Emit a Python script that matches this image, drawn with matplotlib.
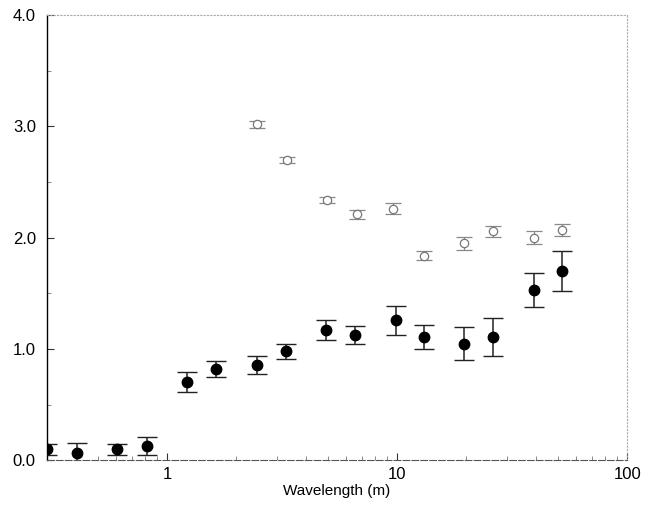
import matplotlib
matplotlib.use("Agg")
import matplotlib.pyplot as plt
from matplotlib.ticker import FixedLocator, NullFormatter, LogLocator

plt.rcParams['font.family'] = ['Liberation Sans', 'DejaVu Sans']

# Filled-circle series
wl_filled = [0.30, 0.406, 0.607, 0.82, 1.22, 1.63, 2.46, 3.29, 4.91, 6.55, 9.83, 13.1, 19.6, 26.2, 39.2, 52.2]
val_filled = [0.10, 0.07, 0.10, 0.13, 0.70, 0.82, 0.86, 0.98, 1.17, 1.13, 1.26, 1.11, 1.05, 1.11, 1.53, 1.70]
err_filled = [0.05, 0.09, 0.05, 0.08, 0.09, 0.07, 0.08, 0.07, 0.09, 0.08, 0.13, 0.11, 0.15, 0.17, 0.15, 0.18]

# Open-circle series
wl_open = [2.45, 3.31, 4.95, 6.68, 9.6, 13.1, 19.6, 26.0, 39.2, 52.3]
val_open = [3.02, 2.70, 2.34, 2.21, 2.26, 1.84, 1.95, 2.06, 2.00, 2.07]
err_open = [0.03, 0.03, 0.03, 0.04, 0.05, 0.04, 0.06, 0.05, 0.06, 0.05]

y_ticks = [0.0, 1.0, 2.0, 3.0, 4.0]
y_tick_labels = ["0.0", "1.0", "2.0", "3.0", "4.0"]
x_ticks = [1, 10, 100]
x_tick_labels = ["1", "10", "100"]

fig = plt.figure(figsize=(6.52, 5.07), dpi=100)
ax = fig.add_axes([0.072, 0.092, 0.890, 0.878])

ax.errorbar(wl_open, val_open, yerr=err_open, fmt='o', ms=6, mfc='white',
            mec='#777777', mew=0.9, ecolor='#888888', elinewidth=0.9,
            capsize=6, capthick=0.9, zorder=3)
ax.errorbar(wl_filled, val_filled, yerr=err_filled, fmt='o', ms=7.5, mfc='black',
            mec='black', ecolor='#222222', elinewidth=1.1,
            capsize=7.5, capthick=1.0, zorder=4)

ax.set_xscale('log')
ax.set_xlim(0.30, 100)
ax.set_ylim(0, 4.0)

ax.xaxis.set_major_locator(FixedLocator(x_ticks))
ax.set_xticklabels(x_tick_labels)
ax.xaxis.set_minor_locator(LogLocator(base=10, subs=range(2, 10)))
ax.xaxis.set_minor_formatter(NullFormatter())
ax.yaxis.set_major_locator(FixedLocator(y_ticks))
ax.set_yticklabels(y_tick_labels)
ax.yaxis.set_minor_locator(FixedLocator([0.5, 1.5, 2.5, 3.5]))

ax.tick_params(axis='both', which='major', direction='in', length=5, width=0.8,
               labelsize=12, colors='#333333', labelcolor='black')
ax.tick_params(axis='y', which='major', pad=8)
ax.tick_params(axis='x', which='major', pad=5)
ax.tick_params(axis='both', which='minor', direction='in', length=3, width=0.6,
               colors='#777777')

ax.set_xlabel("Wavelength (m)", fontsize=11, labelpad=1)

ax.spines['left'].set_color('black')
ax.spines['left'].set_linewidth(1.0)
ax.spines['bottom'].set_color('#555555')
ax.spines['bottom'].set_linewidth(0.8)
ax.spines['bottom'].set_linestyle((0, (6, 2)))
for s in ['top', 'right']:
    ax.spines[s].set_color('#aaaaaa')
    ax.spines[s].set_linewidth(0.8)
    ax.spines[s].set_linestyle((0, (1, 2)))

fig.savefig("out.png", dpi=100)
